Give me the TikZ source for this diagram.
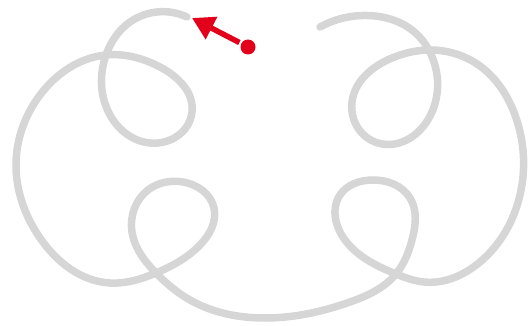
\documentclass[tikz,border=0pt]{standalone}
\usepackage{xcolor}
\usepackage{tikz}
\usetikzlibrary{arrows.meta,hobby}
\definecolor{knotgray}{RGB}{214,214,214}
\definecolor{knotred}{RGB}{226,0,26}

\begin{document}
\begin{tikzpicture}[
  x=1pt, y=-1pt,
  strand/.style={draw=knotgray, line width=7.5pt, line cap=round, use Hobby shortcut},
  dot/.style={circle, fill=knotred, inner sep=0pt, minimum size=15pt},
  push/.style={-{Triangle[length=22pt, width=24pt]}, draw=knotred, line width=5.5pt, shorten <=2pt}
]
\useasboundingbox (0,0) rectangle (530,326);
% the knot, traced from its right end
\draw[strand] (320,27) .. (375,16) .. (412,30) .. (434,62) .. (432,112)
  .. (378,143) .. (352,102) .. (392,58) .. (432,50) .. (480,66) .. (515,115)
  .. (520,195) .. (480,262) .. (424,282) .. (396,274) .. (345,240)
  .. (340,195) .. (372,180) .. (410,198) .. (412,240) .. (396,274)
  .. (350,302) .. (265,318) .. (190,300) .. (156,273) .. (132,232)
  .. (148,190) .. (183,182) .. (214,208) .. (200,245) .. (156,273)
  .. (110,283) .. (40,238) .. (16,163) .. (40,95) .. (106,55) .. (160,67)
  .. (192,112) .. (150,143) .. (110,115) .. (106,55) .. (130,22) .. (187,17);
% red pointer
\node[dot] (start) at (248,47) {};
\coordinate (tip) at (192,18);
\draw[push] (start) -- (tip);
\end{tikzpicture}
\end{document}
